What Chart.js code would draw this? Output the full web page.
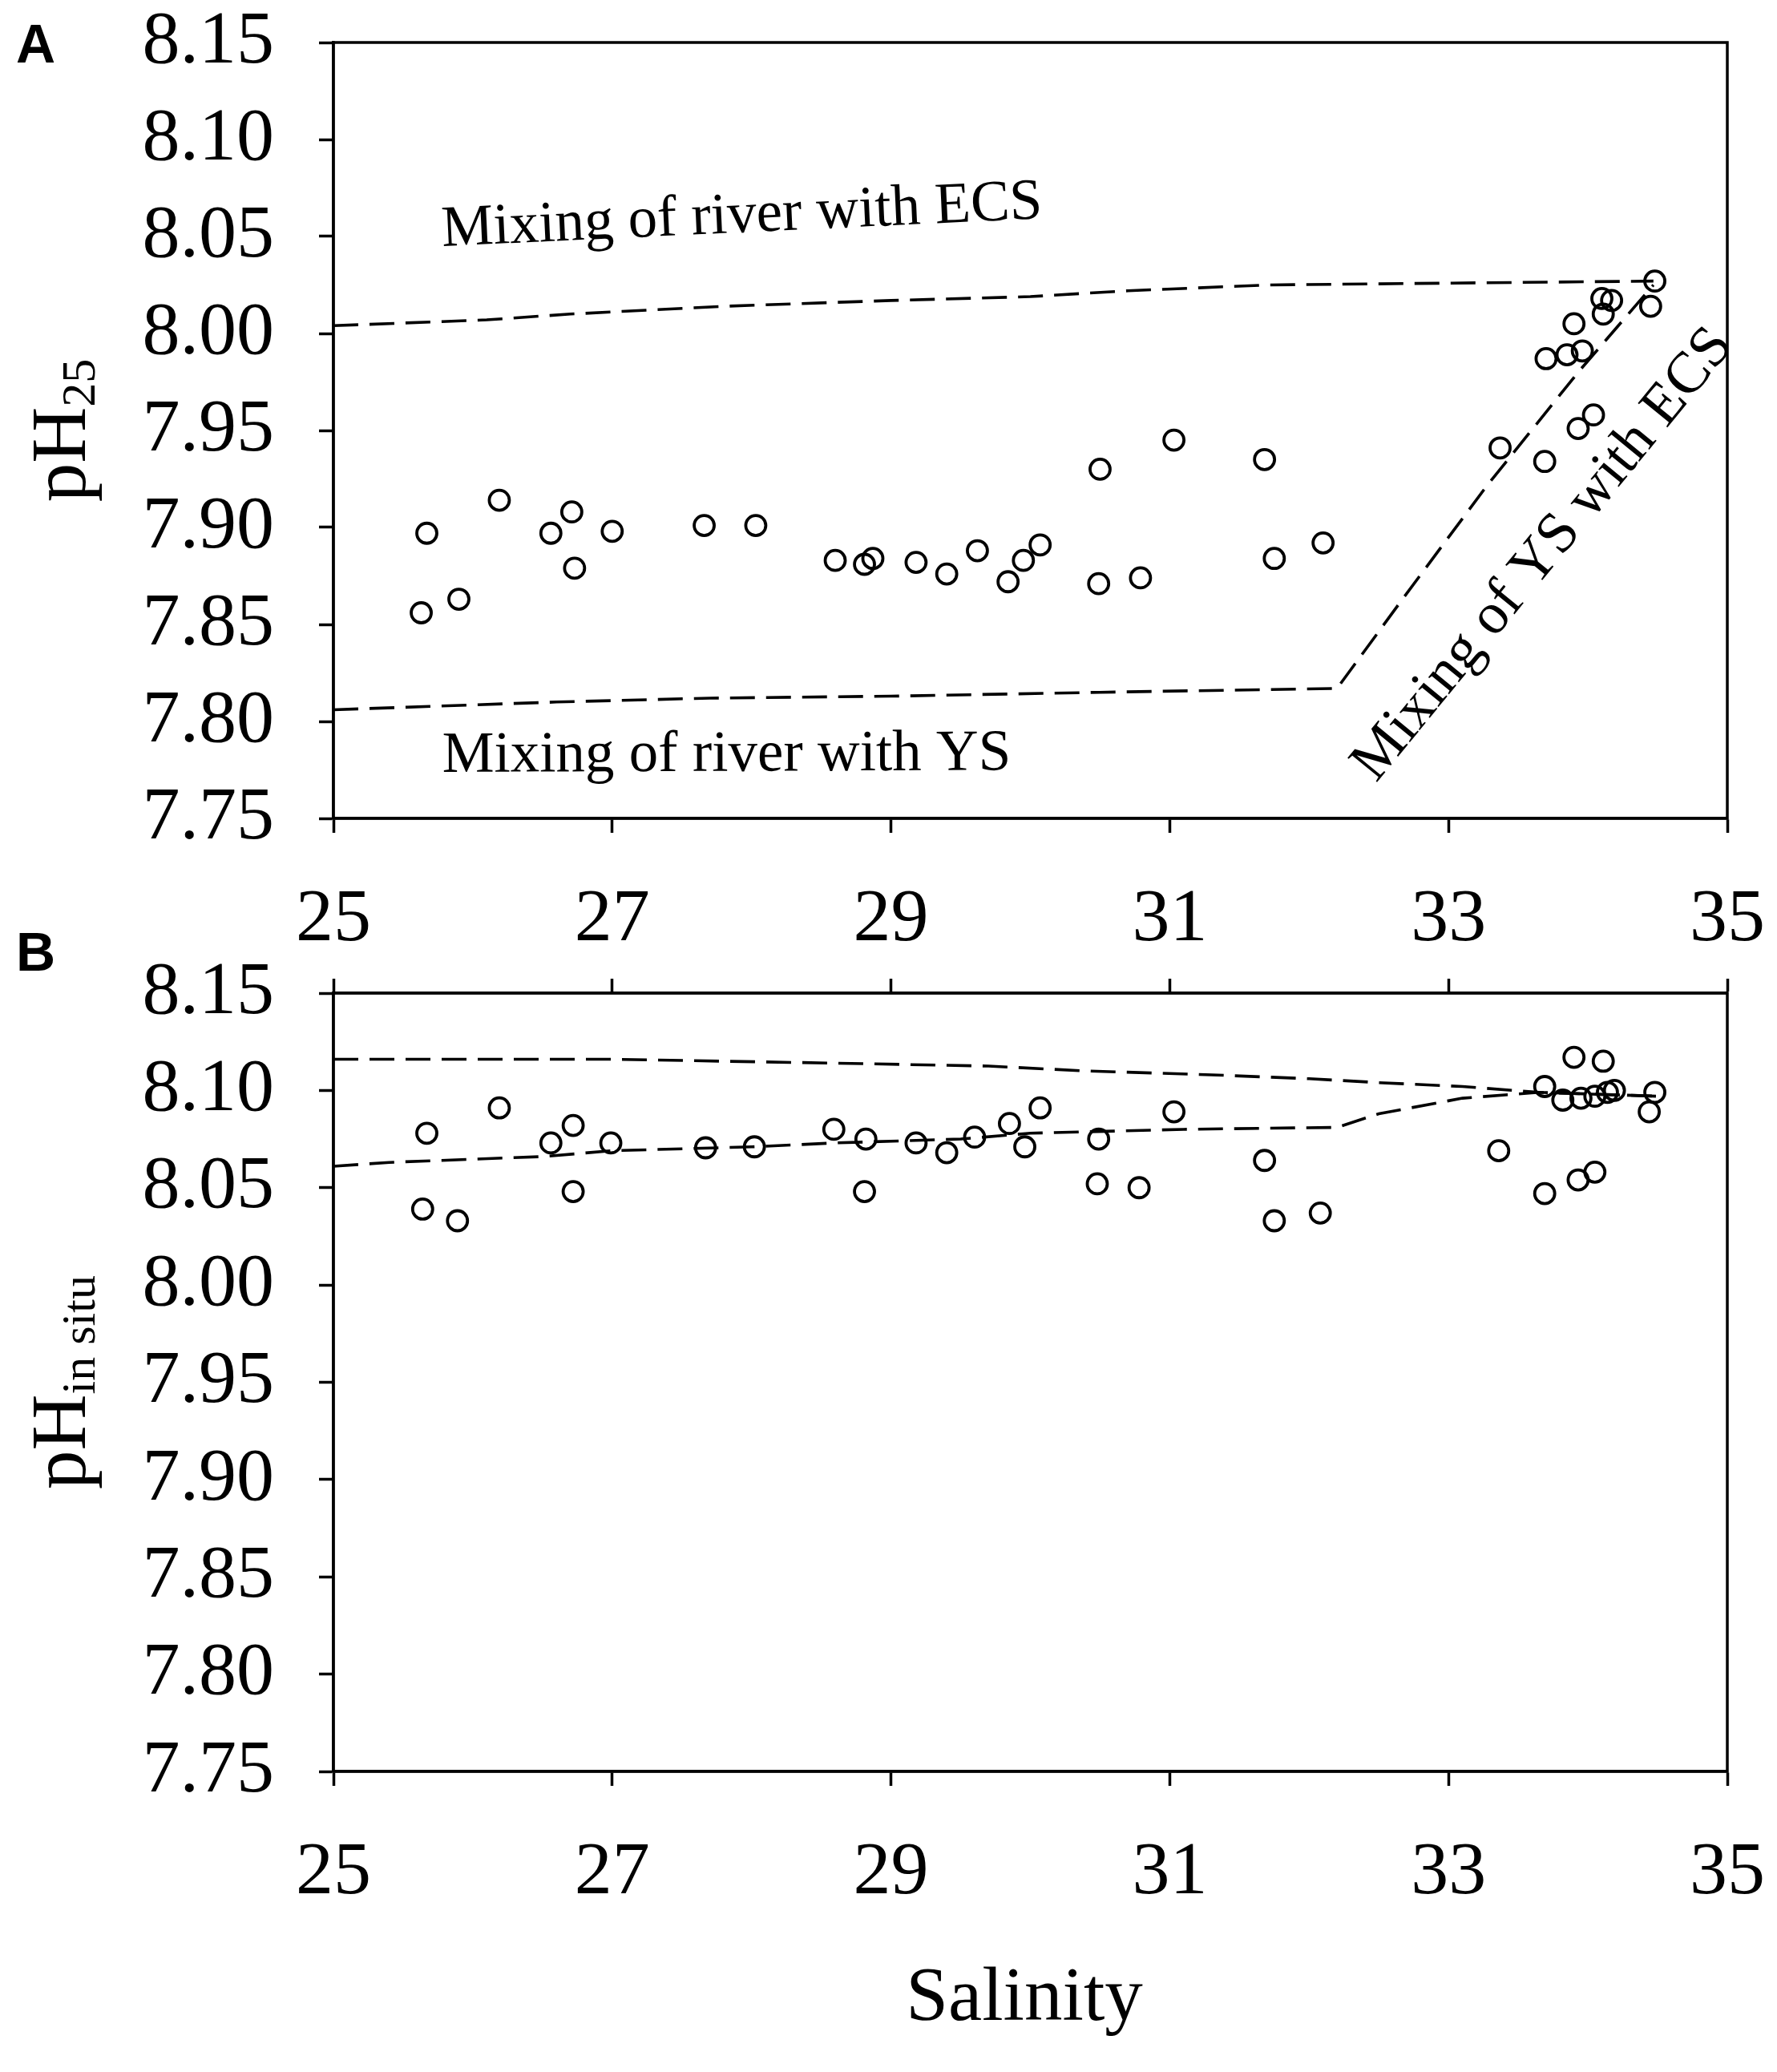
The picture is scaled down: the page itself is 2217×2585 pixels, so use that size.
<!DOCTYPE html>
<html>
<head>
<meta charset="utf-8">
<script src="https://cdn.jsdelivr.net/npm/chart.js@4.4.1/dist/chart.umd.min.js"></script>
<style>
  html, body { margin: 0; padding: 0; background: #fff; }
  #page { position: relative; width: 2217px; height: 2585px; overflow: hidden; background: #fff; }
  canvas { position: absolute; left: 0; }
</style>
</head>
<body>
<div id="page">
  <canvas id="chartA" width="2217" height="1220" style="top:0px;width:2217px;height:1220px"></canvas>
  <canvas id="chartB" width="2217" height="1435" style="top:1150px;width:2217px;height:1435px"></canvas>
</div>
<script>
// tick labels
const salTicks = [25, 27, 29, 31, 33, 35]
const phTicks = [7.75, 7.80, 7.85, 7.90, 7.95, 8.00, 8.05, 8.10, 8.15]

// panel A: pH25 against salinity
const salA = [25.63, 25.67, 25.90, 26.19, 26.56, 26.71, 26.73, 27.00, 27.66, 28.03,
  28.60, 28.81, 28.87, 29.18, 29.40, 29.62, 29.84, 29.95, 30.07, 30.49,
  30.50, 30.79, 31.03, 31.68, 31.75, 32.10, 33.37, 33.69, 33.70, 33.85,
  33.90, 33.93, 33.96, 34.04, 34.10, 34.11, 34.17, 34.45, 34.48]
const phA = [7.856, 7.897, 7.863, 7.914, 7.897, 7.908, 7.879, 7.898, 7.901, 7.901,
  7.883, 7.881, 7.884, 7.882, 7.876, 7.888, 7.872, 7.883, 7.891, 7.871,
  7.930, 7.874, 7.945, 7.935, 7.884, 7.892, 7.941, 7.934, 7.987, 7.989,
  8.005, 7.951, 7.991, 7.958, 8.018, 8.010, 8.017, 8.014, 8.027]

// mixing lines, panel A
const ecsSalA = [25, 26.1, 26.7, 27.8, 29.0, 30.0, 30.7, 31.7, 34.47]
const ecsPhA = [8.004, 8.007, 8.010, 8.014, 8.017, 8.019, 8.022, 8.025, 8.027]
const ysSalA = [25, 26.6, 27.7, 29.0, 30.5, 32.2, 32.68, 33.27, 33.93, 34.47]
const ysPhA = [7.806, 7.810, 7.812, 7.813, 7.815, 7.817, 7.864, 7.921, 7.980, 8.025]

// panel B: pH in situ against salinity
const salB = [25.64, 25.67, 25.89, 26.19, 26.56, 26.72, 26.72, 26.99, 27.67, 28.02,
  28.59, 28.81, 28.82, 29.18, 29.40, 29.60, 29.85, 29.96, 30.07, 30.48,
  30.49, 30.78, 31.03, 31.68, 31.75, 32.08, 33.36, 33.69, 33.69, 33.82,
  33.90, 33.93, 33.95, 34.05, 34.05, 34.11, 34.14, 34.19, 34.44, 34.48]
const phB = [8.039, 8.078, 8.033, 8.091, 8.073, 8.082, 8.048, 8.073, 8.0705, 8.071,
  8.080, 8.048, 8.075, 8.073, 8.068, 8.076, 8.083, 8.071, 8.091, 8.052,
  8.075, 8.050, 8.089, 8.064, 8.033, 8.037, 8.069, 8.047, 8.102, 8.095,
  8.117, 8.054, 8.096, 8.058, 8.097, 8.115, 8.099, 8.100, 8.089, 8.099]

// mixing lines, panel B
const upSalB = [25, 27.0, 28.6, 29.7, 30.4, 31.3, 32.0, 32.5, 33.1, 33.65, 34.5]
const upPhB = [8.116, 8.116, 8.114, 8.1125, 8.110, 8.108, 8.106, 8.104, 8.102, 8.099, 8.097]
const loSalB = [25, 25.4, 26.5, 27.0, 28.0, 28.6, 29.5, 30.0, 31.1, 32.2, 32.5, 33.1, 33.65, 34.5]
const loPhB = [8.061, 8.063, 8.066, 8.069, 8.071, 8.073, 8.075, 8.078, 8.080, 8.081, 8.088, 8.096, 8.099, 8.097]

const SERIF = '"Liberation Serif", "Times New Roman", serif'
const SANS = '"Liberation Sans", Arial, sans-serif'

Chart.defaults.font.family = SERIF
Chart.defaults.color = '#000'

function pts(xs, ys) {
  return xs.map((x, i) => ({ x: x, y: ys[i] }))
}

function dotSet(xs, ys) {
  return {
    data: pts(xs, ys),
    showLine: false,
    pointStyle: 'circle',
    pointRadius: 12.5,
    pointBorderWidth: 3.8,
    pointBorderColor: '#000',
    pointBackgroundColor: 'rgba(0,0,0,0)'
  }
}

function dashSet(xs, ys) {
  return {
    data: pts(xs, ys),
    showLine: true,
    borderColor: '#000',
    borderWidth: 3.6,
    borderDash: [31, 14],
    pointRadius: 0,
    tension: 0,
    fill: false
  }
}

// the label overflow must not move the plot box, the page layout pins it
function noOverflow(s) {
  s.paddingTop = 0
  s.paddingBottom = 0
  s.paddingLeft = 0
  s.paddingRight = 0
}

function yAxis() {
  return {
    type: 'linear',
    min: 7.75,
    max: 8.15,
    afterFit: s => { s.width = 416; noOverflow(s) },
    afterBuildTicks: s => { s.ticks = phTicks.map(v => ({ value: v })) },
    ticks: { font: { size: 94, lineHeight: 1.13 }, padding: 56, callback: v => v.toFixed(2) },
    grid: { drawOnChartArea: false, drawTicks: true, tickLength: 18, tickWidth: 3.5, tickColor: '#000' },
    border: { display: true, color: '#000', width: 3.5 }
  }
}

function xAxis(h, pos, labels) {
  return {
    type: 'linear',
    position: pos,
    min: 25,
    max: 35,
    afterFit: s => { s.height = h; noOverflow(s) },
    afterBuildTicks: s => { s.ticks = salTicks.map(v => ({ value: v })) },
    ticks: { display: labels, font: { size: 94, lineHeight: 1.13 }, padding: 56, maxRotation: 0 },
    grid: { drawOnChartArea: false, drawTicks: true, tickLength: 18, tickWidth: 3.5, tickColor: '#000' },
    border: { display: true, color: '#000', width: 3.5 }
  }
}

// text written at a data position, optionally turned
function note(chart, txt, sal, ph, deg) {
  const ctx = chart.ctx
  const x = chart.scales.x.getPixelForValue(sal)
  const y = chart.scales.y.getPixelForValue(ph)
  ctx.save()
  ctx.translate(x, y)
  ctx.rotate(deg * Math.PI / 180)
  ctx.font = '73px ' + SERIF
  ctx.fillStyle = '#000'
  ctx.textAlign = 'left'
  ctx.textBaseline = 'alphabetic'
  ctx.fillText(txt, 0, 0)
  ctx.restore()
}

// vertical axis title with a subscript
function yTitle(chart, main, sub) {
  const ctx = chart.ctx
  const a = chart.chartArea
  ctx.save()
  ctx.translate(106, (a.top + a.bottom) / 2)
  ctx.rotate(-Math.PI / 2)
  ctx.fillStyle = '#000'
  ctx.textBaseline = 'alphabetic'
  ctx.font = '97px ' + SERIF
  const w1 = ctx.measureText(main).width
  ctx.font = '60px ' + SERIF
  const w2 = ctx.measureText(sub).width
  const x0 = -(w1 + w2) / 2
  ctx.font = '97px ' + SERIF
  ctx.fillText(main, x0, 0)
  ctx.font = '60px ' + SERIF
  ctx.fillText(sub, x0 + w1, 12)
  ctx.restore()
}

function frame(chart) {
  const ctx = chart.ctx
  const a = chart.chartArea
  ctx.save()
  ctx.strokeStyle = '#000'
  ctx.lineWidth = 3.5
  ctx.strokeRect(a.left, a.top, a.right - a.left, a.bottom - a.top)
  ctx.restore()
}

function letter(chart, txt, y) {
  const ctx = chart.ctx
  ctx.save()
  ctx.font = 'bold 68px ' + SANS
  ctx.fillStyle = '#000'
  ctx.textBaseline = 'alphabetic'
  ctx.fillText(txt, 20, y)
  ctx.restore()
}

const extrasA = {
  id: 'extrasA',
  afterDraw(chart) {
    frame(chart)
    yTitle(chart, 'pH', '25')
    letter(chart, 'A', 78)
    note(chart, 'Mixing of river with ECS', 25.78, 8.045, -2.67)
    note(chart, 'Mixing of river with YS', 25.78, 7.774, -0.2)
    note(chart, 'Mixing of YS with ECS', 32.48, 7.768, -50.7)
  }
}

const extrasB = {
  id: 'extrasB',
  afterDraw(chart) {
    frame(chart)
    yTitle(chart, 'pH', 'in situ')
    letter(chart, 'B', 61)
    const ctx = chart.ctx
    ctx.save()
    ctx.font = '95px ' + SERIF
    ctx.fillStyle = '#000'
    ctx.textAlign = 'center'
    ctx.textBaseline = 'alphabetic'
    ctx.fillText('Salinity', 1278, 1370)
    ctx.restore()
  }
}

const common = {
  responsive: false,
  animation: false,
  devicePixelRatio: 1,
  plugins: { legend: { display: false }, tooltip: { enabled: false } }
}

new Chart(document.getElementById('chartA').getContext('2d'), {
  type: 'scatter',
  data: {
    datasets: [
      dotSet(salA, phA),
      dashSet(ecsSalA, ecsPhA),
      dashSet(ysSalA, ysPhA)
    ]
  },
  options: Object.assign({}, common, {
    layout: { padding: { left: 0, right: 62, top: 53, bottom: 0 } },
    scales: { x: xAxis(199, 'bottom', true), y: yAxis() }
  }),
  plugins: [extrasA]
})

new Chart(document.getElementById('chartB').getContext('2d'), {
  type: 'scatter',
  data: {
    datasets: [
      dotSet(salB, phB),
      dashSet(upSalB, upPhB),
      dashSet(loSalB, loPhB)
    ]
  },
  options: Object.assign({}, common, {
    layout: { padding: { left: 0, right: 62, top: 0, bottom: 0 } },
    scales: { x: xAxis(375, 'bottom', true), x2: xAxis(89, 'top', false), y: yAxis() }
  }),
  plugins: [extrasB]
})
</script>
</body>
</html>
